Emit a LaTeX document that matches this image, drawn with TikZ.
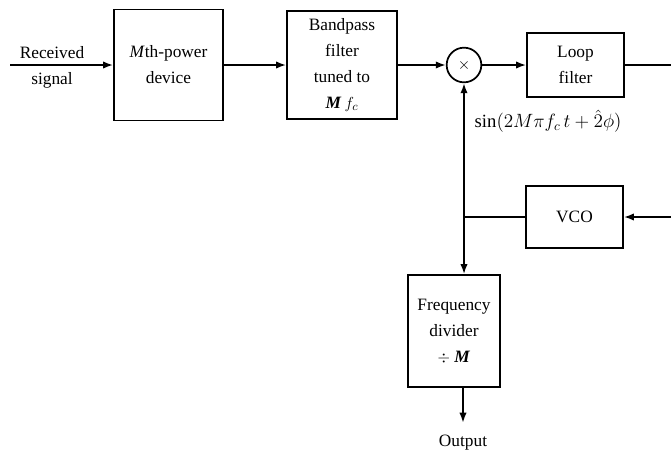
\documentclass[tikz,border=0pt]{standalone}
\usepackage{fontspec}
\setmainfont{Liberation Serif}
\usetikzlibrary{arrows.meta}
\begin{document}
\begin{tikzpicture}[x=0.75pt,y=-0.75pt,
	font=\fontsize{13}{19.5}\selectfont,
	block/.style={draw, line width=1.3pt, align=center, inner sep=0pt},
	mixer/.style={draw, circle, line width=1.3pt, minimum size=26pt, inner sep=0pt},
	sig/.style={line width=1.3pt, -{Latex[length=7.5pt,width=5.5pt]}},
	wire/.style={line width=1.3pt}]
	\useasboundingbox (0,0) rectangle (671,454);

	% Top row - power device, bandpass filter, multiplier, loop filter
	\node[block, minimum width=81.75pt, minimum height=83.25pt] (power) at (168.5,65) {\textit{M}th-power\\device};
	\node[block, minimum width=82.5pt, minimum height=81pt] (bpf) at (342,65) {Bandpass\\filter\\tuned to\\\textbf{\textit{M}}\,$f_c$};
	\node[mixer] (mult) at (464,65) {$\times$};
	\node[block, minimum width=72.75pt, minimum height=48pt] (loop) at (575.5,65) {Loop\\filter};

	% Feedback side - VCO and frequency divider
	\node[block, minimum width=72.75pt, minimum height=47pt] (vco) at (574.5,217) {VCO};
	\node[block, minimum width=69pt, minimum height=84pt] (div) at (454,331) {Frequency\\divider\\$\div$ \textbf{\textit{M}}};

	% Labels
	\node (rxtop) at (52,53) {Received};
	\node (rxbot) at (52,80) {signal};
	\node[anchor=west, font=\fontsize{14}{16}\selectfont] (sinlbl) at (470,121) {sin$(2M\pi f_c\,t+\hat{2}\phi)$};
	\node (outlbl) at (463,443) {Output};

	% Free ends
	\coordinate (rxin) at (10,65);
	\coordinate (loopout) at (671,65);
	\coordinate (vcoin) at (671,217);
	\coordinate (tap) at (464,217);

	% Forward path
	\draw[sig] (rxin) -- (power);
	\draw[sig] (power) -- (bpf);
	\draw[sig] (bpf) -- (mult);
	\draw[sig] (mult) -- (loop);
	\draw[wire] (loop) -- (loopout);

	% Loop back through the VCO
	\draw[sig] (vcoin) -- (vco);
	\draw[wire] (vco) -- (tap);
	\draw[sig] (tap) -- (mult);
	\draw[sig] (tap) -- (tap |- div.north);
	\draw[sig, shorten >=6pt] (outlbl |- div.south) -- (outlbl.north);
\end{tikzpicture}
\end{document}
